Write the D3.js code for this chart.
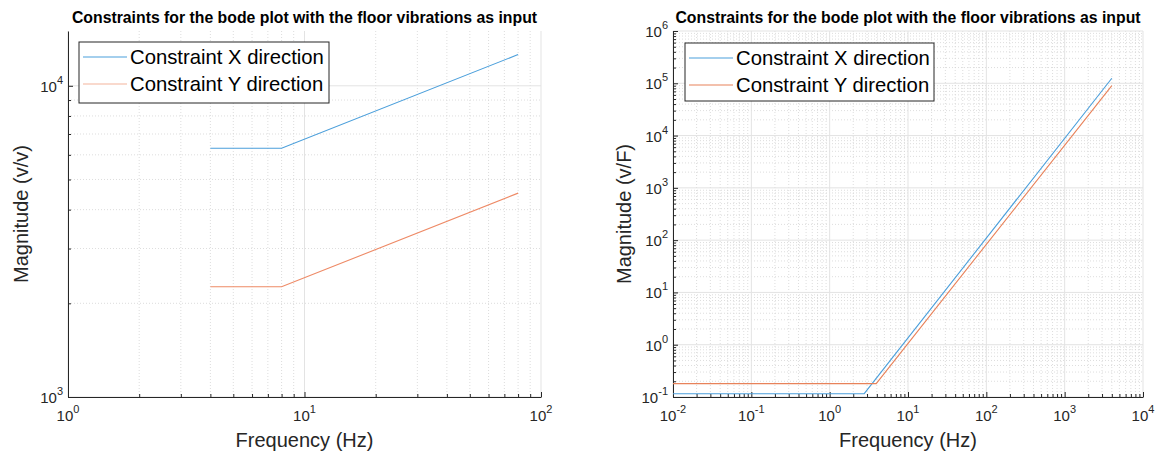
<!DOCTYPE html>
<html>
<head>
<meta charset="utf-8">
<script src="https://cdn.jsdelivr.net/npm/d3@7"></script>
<style>
  html, body { margin: 0; padding: 0; background: #fff; }
  svg { display: block; font-family: "Liberation Sans", Arial, Helvetica, sans-serif; }
</style>
</head>
<body>
<svg id="chart" width="1162" height="459"></svg>
<script>
// ---------- data ----------
const titleText = "Constraints for the bode plot with the floor vibrations as input";
const seriesNames = ["Constraint X direction", "Constraint Y direction"];

// Left panel: floor vibrations -> v/v
const leftFreq   = [4, 8, 80];
const leftX      = [6300, 6300, 12600];
const leftY      = [2260, 2260, 4520];
const leftXTicks = [0, 1, 2];     // exponents
const leftYTicks = [3, 4];

// Right panel: v/F
const rightFreqX = [0.01, 2.76, 4000];
const rightValX  = [0.1156, 0.1156, 125000];
const rightFreqY = [0.01, 3.93, 4000];
const rightValY  = [0.18, 0.18, 90000];
const rightXTicks = [-2, -1, 0, 1, 2, 3, 4];
const rightYTicks = [-1, 0, 1, 2, 3, 4, 5, 6];

const svg = d3.select("#chart");
const axisColor = "#262626";

function minorValues(minExp, maxDomain, lo) {
  const out = [];
  for (let e = minExp - 1; e <= Math.ceil(Math.log10(maxDomain)); e++) {
    for (let m = 2; m <= 9; m++) {
      const v = m * Math.pow(10, e);
      if (v > lo && v < maxDomain) out.push(v);
    }
  }
  return out;
}

function drawPanel(cfg) {
  const g = svg.append("g");
  const x = d3.scaleLog().domain(cfg.xDomain).range([cfg.left, cfg.right]);
  const y = d3.scaleLog().domain(cfg.yDomain).range([cfg.bottom, cfg.top]);

  const xMajor = cfg.xTicks.map(e => Math.pow(10, e));
  const yMajor = cfg.yTicks.map(e => Math.pow(10, e));
  const xMinor = minorValues(cfg.xTicks[0], cfg.xDomain[1], cfg.xDomain[0]);
  const yMinor = minorValues(cfg.yTicks[0], cfg.yDomain[1], cfg.yDomain[0]);

  // minor grid (dotted)
  g.append("g").selectAll("line").data(xMinor).join("line")
    .attr("x1", d => x(d)).attr("x2", d => x(d))
    .attr("y1", cfg.top).attr("y2", cfg.bottom)
    .attr("stroke", "#d4d4d4").attr("stroke-width", 0.8).attr("stroke-dasharray", "1,2");
  g.append("g").selectAll("line").data(yMinor).join("line")
    .attr("y1", d => y(d)).attr("y2", d => y(d))
    .attr("x1", cfg.left).attr("x2", cfg.right)
    .attr("stroke", "#d4d4d4").attr("stroke-width", 0.8).attr("stroke-dasharray", "1,2");
  // major grid
  g.append("g").selectAll("line").data(xMajor).join("line")
    .attr("x1", d => x(d)).attr("x2", d => x(d))
    .attr("y1", cfg.top).attr("y2", cfg.bottom)
    .attr("stroke", "#e3e3e3").attr("stroke-width", 1);
  g.append("g").selectAll("line").data(yMajor).join("line")
    .attr("y1", d => y(d)).attr("y2", d => y(d))
    .attr("x1", cfg.left).attr("x2", cfg.right)
    .attr("stroke", "#e3e3e3").attr("stroke-width", 1);

  // axes with inward ticks
  const xAxis = d3.axisBottom(x).tickValues(xMajor.concat(xMinor))
    .tickSize(0).tickFormat("");
  const yAxis = d3.axisLeft(y).tickValues(yMajor.concat(yMinor))
    .tickSize(0).tickFormat("");
  const gx = g.append("g").attr("transform", `translate(0,${cfg.bottom})`).call(xAxis);
  const gy = g.append("g").attr("transform", `translate(${cfg.left},0)`).call(yAxis);
  [gx, gy].forEach(a => a.select(".domain").attr("stroke", axisColor).attr("stroke-width", 1));
  gx.selectAll(".tick line")
    .attr("y2", d => xMajor.includes(d) ? -5 : -3)
    .attr("stroke", axisColor);
  gy.selectAll(".tick line")
    .attr("x2", d => yMajor.includes(d) ? 5 : 3)
    .attr("stroke", axisColor);

  // tick labels 10^n
  const xl = g.append("g").selectAll("text").data(cfg.xTicks).join("text")
    .attr("x", e => x(Math.pow(10, e)))
    .attr("y", cfg.bottom + 24)
    .attr("text-anchor", "middle")
    .attr("font-size", 15).attr("fill", axisColor);
  xl.append("tspan").text("10");
  xl.append("tspan").attr("font-size", 11).attr("dy", -8).text(e => e);

  const yl = g.append("g").selectAll("text").data(cfg.yTicks).join("text")
    .attr("x", cfg.left - 5)
    .attr("y", e => y(Math.pow(10, e)) + 6)
    .attr("text-anchor", "end")
    .attr("font-size", 15).attr("fill", axisColor);
  yl.append("tspan").text("10");
  yl.append("tspan").attr("font-size", 11).attr("dy", -8).text(e => e);

  // series
  const line = d3.line().x(d => x(d[0])).y(d => y(d[1]));
  cfg.series.forEach(s => {
    g.append("path").datum(d3.zip(s.f, s.v))
      .attr("d", line).attr("fill", "none")
      .attr("stroke", s.color).attr("stroke-width", 1.1);
  });

  // title
  g.append("text")
    .attr("x", (cfg.left + cfg.right) / 2).attr("y", cfg.top - 8)
    .attr("text-anchor", "middle").attr("font-weight", "bold")
    .attr("font-size", 15.8).attr("fill", "#000").text(titleText);

  // axis labels
  g.append("text")
    .attr("x", (cfg.left + cfg.right) / 2).attr("y", cfg.bottom + 50)
    .attr("text-anchor", "middle").attr("font-size", 20).attr("fill", axisColor)
    .text("Frequency (Hz)");
  g.append("text")
    .attr("transform", `translate(${cfg.ylabelX},${(cfg.top + cfg.bottom) / 2}) rotate(-90)`)
    .attr("text-anchor", "middle").attr("font-size", 20).attr("fill", axisColor)
    .text(cfg.ylabel);

  // legend
  const lg = g.append("g").attr("transform", `translate(${cfg.legend[0]},${cfg.legend[1]})`);
  lg.append("rect").attr("width", cfg.legend[2]).attr("height", cfg.legend[3])
    .attr("fill", "#fff").attr("stroke", axisColor).attr("stroke-width", 1);
  cfg.series.forEach((s, i) => {
    const yy = 15 + i * 27;
    lg.append("line").attr("x1", 4).attr("x2", 48).attr("y1", yy).attr("y2", yy)
      .attr("stroke", s.legendColor || s.color).attr("stroke-width", 1.2);
    lg.append("text").attr("x", 51).attr("y", yy + 7)
      .attr("font-size", 20.3).attr("fill", "#000").text(seriesNames[i]);
  });
}

drawPanel({
  left: 68, right: 541, top: 31, bottom: 397,
  xDomain: [1, 100], yDomain: [1000, 15000],
  xTicks: leftXTicks, yTicks: leftYTicks,
  ylabel: "Magnitude (v/v)", ylabelX: 28,
  legend: [79, 42, 250, 61],
  series: [
    { f: leftFreq, v: leftX, color: "#4b9fdb" },
    { f: leftFreq, v: leftY, color: "#ee8a66", legendColor: "#f3b49b" }
  ]
});

drawPanel({
  left: 673, right: 1143, top: 31, bottom: 397,
  xDomain: [0.01, 10000], yDomain: [0.1, 1e6],
  xTicks: rightXTicks, yTicks: rightYTicks,
  ylabel: "Magnitude (v/F)", ylabelX: 631,
  legend: [685, 43, 249, 58],
  series: [
    { f: rightFreqX, v: rightValX, color: "#4b9fdb" },
    { f: rightFreqY, v: rightValY, color: "#e8825a" }
  ]
});
</script>
</body>
</html>
